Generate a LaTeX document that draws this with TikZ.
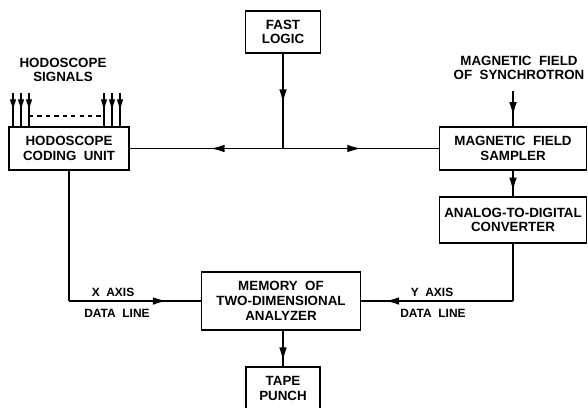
\documentclass[tikz,border=0pt]{standalone}
\usepackage{fontspec}
\setmainfont{Liberation Sans}
\usetikzlibrary{arrows.meta,decorations.markings,positioning}

\begin{document}
\begin{tikzpicture}[
  font=\fontsize{9.5}{10.5}\selectfont\bfseries,
  line width=0.9pt,
  unit/.style={draw=black, line width=0.9pt, align=center, inner sep=1pt},
  caption/.style={align=center, inner sep=0pt},
  linelabel/.style={inner sep=0pt, font=\fontsize{8.5}{9}\selectfont\bfseries},
  flow/.style={postaction={decorate}, decoration={markings,
    mark=at position #1 with {\arrow{Latex[length=3.4mm,width=1.9mm]}}}},
  sigflow/.style={postaction={decorate}, decoration={markings,
    mark=at position #1 with {\arrow{Latex[length=3mm,width=1.6mm]}}}}
]
\useasboundingbox (0,0) rectangle (14.7,10.175);

% Bloki
\node[unit, minimum width=1.875cm, minimum height=1.05cm]
  (fast) at (7.075,9.375) {FAST\\LOGIC};
\node[unit, minimum width=3.0cm, minimum height=1.075cm]
  (hodo) at (1.725,6.4625) {HODOSCOPE\\CODING \;UNIT};
\node[unit, minimum width=3.675cm, minimum height=1.075cm]
  (sampler) at (12.825,6.4625) {MAGNETIC \;FIELD\\SAMPLER};
\node[unit, minimum width=3.675cm, minimum height=1.15cm]
  (adc) at (12.825,4.675) {ANALOG-TO-DIGITAL\\CONVERTER};
\node[unit, minimum width=3.975cm, minimum height=1.45cm]
  (memory) at (7.025,2.65) {MEMORY \;OF\\TWO-DIMENSIONAL\\ANALYZER};
\node[unit, minimum width=1.85cm, minimum height=1.075cm]
  (tape) at (7.075,0.4625) {TAPE\\PUNCH};

% Vhodni signali
\node[caption] (hodosig) at (1.575,8.425) {HODOSCOPE\\SIGNALS};
\node[caption] (magfield) at (12.975,8.475) {MAGNETIC \;FIELD\\OF \;SYNCHROTRON};

\foreach \sx in {0.325,0.525,0.725,2.6,2.8,3.0}
  \draw[sigflow=0.55] (\sx,7.85) -- (\sx,7.85 |- hodo.north);
\draw[dashed, line width=0.8pt] (0.725,7.275) -- (2.6,7.275);

\coordinate (magin) at (12.825,7.9);
\draw[flow=0.7] (magin) -- (sampler.north);

% Hitra logika
\coordinate (junc) at (fast.south |- hodo.east);
\draw[flow=0.52] (fast.south) -- (junc);
\draw[flow=0.47] (junc) -- (hodo.east);
\draw[flow=0.5] (junc) -- (sampler.west);

% Podatkovne linije
\draw[flow=0.8] (sampler.south) -- (adc.north);
\coordinate (xcorner) at (hodo.south |- memory.west);
\coordinate (ycorner) at (adc.south |- memory.west);
\draw (hodo.south) -- (xcorner);
\draw[flow=0.74] (xcorner) -- (memory.west);
\draw (adc.south) -- (ycorner);
\draw[flow=0.84] (ycorner) -- (memory.east);
\draw[flow=0.85] (memory.south -| tape.north) -- (tape.north);

\node[linelabel] (xaxis) at (2.825,2.875) {X \;AXIS};
\node[linelabel] (xdata) at (2.925,2.35) {DATA \;LINE};
\node[linelabel] (yaxis) at (10.8,2.875) {Y \;AXIS};
\node[linelabel] (ydata) at (10.825,2.35) {DATA \;LINE};

\end{tikzpicture}
\end{document}
